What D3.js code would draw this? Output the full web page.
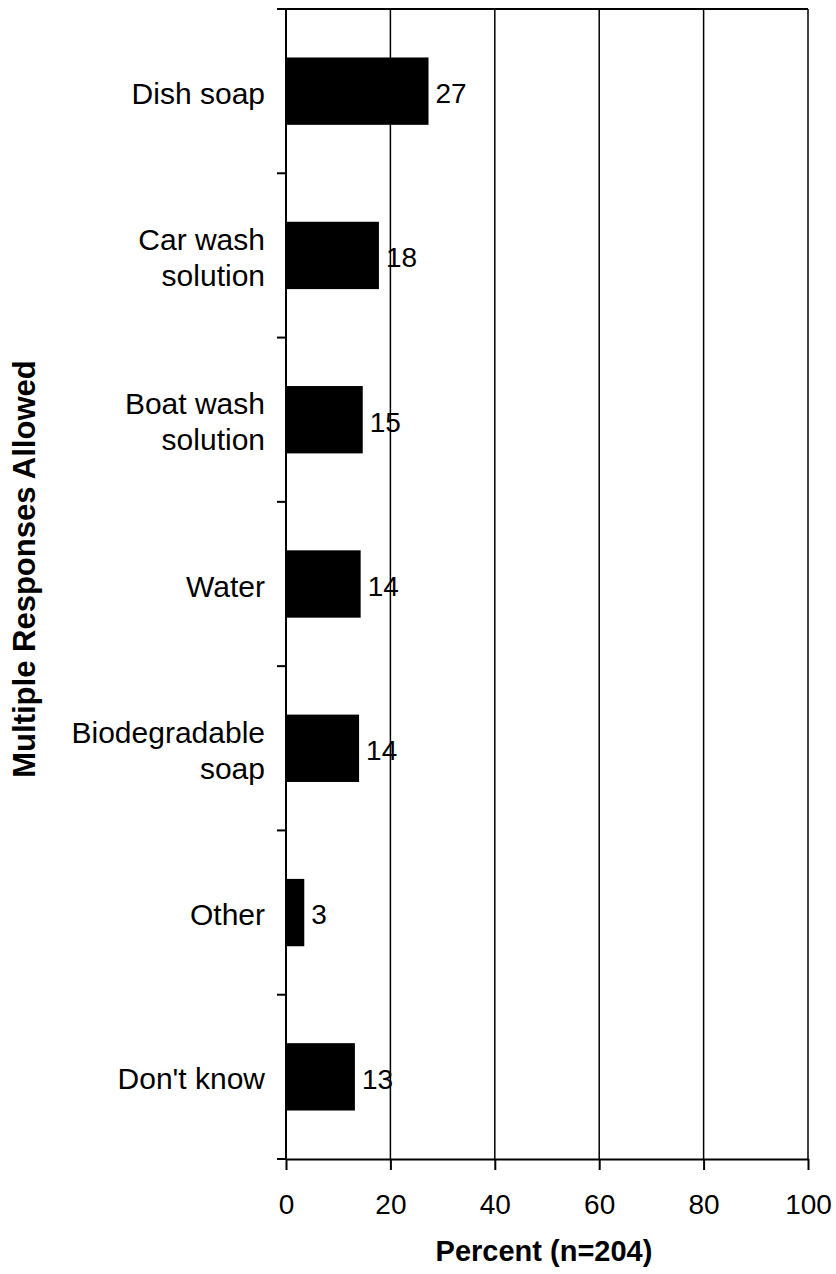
<!DOCTYPE html>
<html>
<head>
<meta charset="utf-8">
<script src="https://cdn.jsdelivr.net/npm/d3@7"></script>
<style>
  html, body { margin: 0; padding: 0; background: #fff; }
  text { font-family: Arial, "Liberation Sans", sans-serif; fill: #000; }
</style>
</head>
<body>
<svg id="chart" width="836" height="1274"></svg>
<script>
const categories = ["Dish soap", "Car wash solution", "Boat wash solution", "Water", "Biodegradable soap", "Other", "Don't know"];
const categoryLines = [["Dish soap"], ["Car wash", "solution"], ["Boat wash", "solution"], ["Water"], ["Biodegradable", "soap"], ["Other"], ["Don't know"]];
const values = [27.3, 17.8, 14.7, 14.3, 14.0, 3.5, 13.2];
const valueLabels = ["27", "18", "15", "14", "14", "3", "13"];
const xTicks = [0, 20, 40, 60, 80, 100];
const xTitle = "Percent (n=204)";
const yTitle = "Multiple Responses Allowed";

const svg = d3.select("#chart");
const pLeft = 286, pRight = 808, pTop = 9, pBottom = 1159;
const fs = 28;

const x = d3.scaleLinear().domain([0, 100]).range([pLeft, pRight]);
const y = d3.scaleBand().domain(categories).range([pTop, pBottom]).paddingInner(0.59).paddingOuter(0.295);

// gridlines
svg.append("g").selectAll("line").data(xTicks.filter(d => d > 0)).join("line")
  .attr("x1", d => x(d)).attr("x2", d => x(d))
  .attr("y1", pTop).attr("y2", pBottom)
  .attr("stroke", "#000").attr("stroke-width", 1.5);

// top border
svg.append("line").attr("x1", pLeft).attr("x2", pRight).attr("y1", pTop).attr("y2", pTop)
  .attr("stroke", "#000").attr("stroke-width", 2);

// bars
svg.append("g").selectAll("rect").data(values).join("rect")
  .attr("x", x(0))
  .attr("y", (d, i) => y(categories[i]))
  .attr("width", d => x(d) - x(0))
  .attr("height", y.bandwidth())
  .attr("fill", "#000");

// value labels
svg.append("g").selectAll("text").data(values).join("text")
  .attr("x", d => x(d) + 7)
  .attr("y", (d, i) => y(categories[i]) + y.bandwidth() / 2 + 2)
  .attr("dy", "0.35em")
  .attr("font-size", fs)
  .text((d, i) => valueLabels[i]);

// y axis: boundary ticks
const boundaries = d3.range(categories.length + 1).map(i => pTop + i * (pBottom - pTop) / categories.length);
const yAxis = svg.append("g");
yAxis.append("line").attr("x1", pLeft).attr("x2", pLeft).attr("y1", pTop).attr("y2", pBottom)
  .attr("stroke", "#000").attr("stroke-width", 2);
yAxis.selectAll("line.tk").data(boundaries).join("line").attr("class", "tk")
  .attr("x1", pLeft - 9).attr("x2", pLeft).attr("y1", d => d).attr("y2", d => d)
  .attr("stroke", "#000").attr("stroke-width", 2);

// category labels
const lineH = 36;
categories.forEach((c, i) => {
  const lines = categoryLines[i];
  const cy = y(c) + y.bandwidth() / 2 + 2;
  const t = svg.append("text").attr("text-anchor", "end").attr("font-size", 30);
  lines.forEach((ln, j) => {
    t.append("tspan").attr("x", 265)
      .attr("y", cy + (j - (lines.length - 1) / 2) * lineH)
      .attr("dy", "0.35em").text(ln);
  });
});

// x axis
const xAxis = svg.append("g").attr("transform", `translate(0,${pBottom})`)
  .call(d3.axisBottom(x).tickValues(xTicks).tickSize(11).tickPadding(24).tickSizeOuter(0));
xAxis.select(".domain").attr("stroke", "#000").attr("stroke-width", 2);
xAxis.selectAll(".tick line").attr("stroke", "#000").attr("stroke-width", 2);
xAxis.selectAll(".tick text").attr("font-size", fs).attr("font-family", "Arial, 'Liberation Sans', sans-serif").attr("fill", "#000");

// titles
svg.append("text").attr("x", 544).attr("y", 1251).attr("dy", "0.35em")
  .attr("text-anchor", "middle").attr("font-size", 29).attr("font-weight", "bold").text(xTitle);
svg.append("text").attr("transform", "translate(24,569) rotate(-90)").attr("dy", "0.35em")
  .attr("text-anchor", "middle").attr("font-size", 31).attr("font-weight", "bold").text(yTitle);
</script>
</body>
</html>
